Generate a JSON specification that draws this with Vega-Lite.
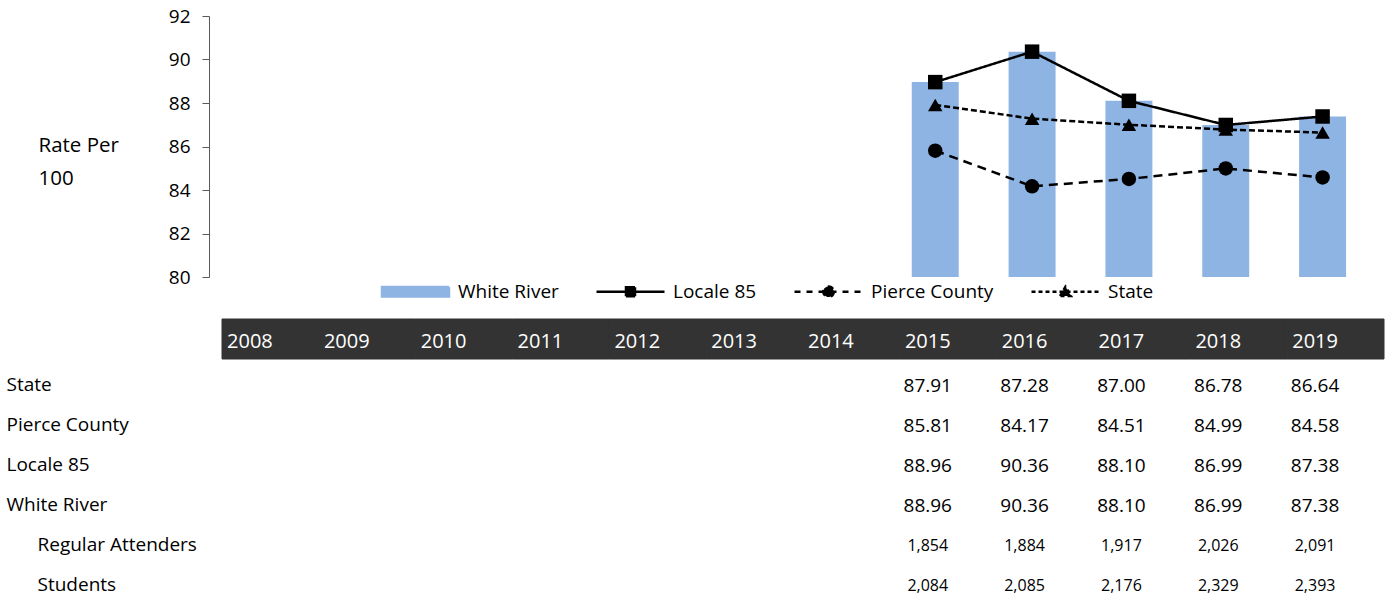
{
  "$schema": "https://vega.github.io/schema/vega-lite/v6.json",
  "padding": {"left": 6, "top": 7, "right": 0, "bottom": 0},
  "autosize": {"type": "pad"},
  "background": "#ffffff",
  "config": {"font": "Open Sans", "view": {"stroke": null}},
  "datasets": {
    "rates": [
      {"year": "2015", "series": "State", "value": 87.91},
      {"year": "2016", "series": "State", "value": 87.28},
      {"year": "2017", "series": "State", "value": 87.00},
      {"year": "2018", "series": "State", "value": 86.78},
      {"year": "2019", "series": "State", "value": 86.64},
      {"year": "2015", "series": "Pierce County", "value": 85.81},
      {"year": "2016", "series": "Pierce County", "value": 84.17},
      {"year": "2017", "series": "Pierce County", "value": 84.51},
      {"year": "2018", "series": "Pierce County", "value": 84.99},
      {"year": "2019", "series": "Pierce County", "value": 84.58},
      {"year": "2015", "series": "Locale 85", "value": 88.96},
      {"year": "2016", "series": "Locale 85", "value": 90.36},
      {"year": "2017", "series": "Locale 85", "value": 88.10},
      {"year": "2018", "series": "Locale 85", "value": 86.99},
      {"year": "2019", "series": "Locale 85", "value": 87.38},
      {"year": "2015", "series": "White River", "value": 88.96},
      {"year": "2016", "series": "White River", "value": 90.36},
      {"year": "2017", "series": "White River", "value": 88.10},
      {"year": "2018", "series": "White River", "value": 86.99},
      {"year": "2019", "series": "White River", "value": 87.38},
      {"year": "2015", "series": "Regular Attenders", "value": 1854},
      {"year": "2016", "series": "Regular Attenders", "value": 1884},
      {"year": "2017", "series": "Regular Attenders", "value": 1917},
      {"year": "2018", "series": "Regular Attenders", "value": 2026},
      {"year": "2019", "series": "Regular Attenders", "value": 2091},
      {"year": "2015", "series": "Students", "value": 2084},
      {"year": "2016", "series": "Students", "value": 2085},
      {"year": "2017", "series": "Students", "value": 2176},
      {"year": "2018", "series": "Students", "value": 2329},
      {"year": "2019", "series": "Students", "value": 2393}
    ],
    "years": [
      {"year": "2008"}, {"year": "2009"}, {"year": "2010"}, {"year": "2011"},
      {"year": "2012"}, {"year": "2013"}, {"year": "2014"}, {"year": "2015"},
      {"year": "2016"}, {"year": "2017"}, {"year": "2018"}, {"year": "2019"}
    ]
  },
  "spacing": 42,
  "bounds": "flush",
  "vconcat": [
    {
      "width": 1162,
      "height": 261,
      "data": {"name": "rates"},
      "transform": [{"filter": {"field": "series", "oneOf": ["White River", "Locale 85", "Pierce County", "State"]}}],
      "encoding": {
        "x": {
          "field": "year", "type": "ordinal",
          "scale": {"domain": ["2008","2009","2010","2011","2012","2013","2014","2015","2016","2017","2018","2019"], "paddingInner": 0.515, "paddingOuter": 0.2575},
          "axis": null
        },
        "y": {
          "field": "value", "type": "quantitative",
          "scale": {"domain": [80, 92], "nice": false, "zero": false},
          "axis": {
            "values": [80, 82, 84, 86, 88, 90, 92],
            "grid": false,
            "domainColor": "#595959",
            "tickColor": "#595959",
            "tickSize": 7,
            "labelPadding": 12,
            "labelFontSize": 19,
            "labelColor": "#000000",
            "labelFont": "Open Sans",
            "title": ["Rate Per", "100"],
            "titleAngle": 0,
            "titleAlign": "left",
            "titleBaseline": "alphabetic",
            "titleX": -171,
            "titleY": 135,
            "titleFont": "Open Sans",
            "titleFontSize": 20.5,
            "titleFontWeight": "normal",
            "titleColor": "#000000",
            "titleLineHeight": 33
          }
        },
        "color": {
          "field": "series", "type": "nominal",
          "scale": {"domain": ["White River", "Locale 85", "Pierce County", "State"], "range": ["#8EB4E3", "#000000", "#000000", "#000000"]},
          "legend": {
            "orient": "none",
            "legendX": 169,
            "legendY": 266,
            "direction": "horizontal",
            "title": null,
            "labelFont": "Open Sans",
            "labelFontSize": 19,
            "labelColor": "#000000",
            "symbolSize": 100,
            "symbolStrokeWidth": 2.5,
            "symbolOffset": 28,
            "labelOffset": 33,
            "columnPadding": 32,
            "labelLimit": 300,
            "encode": {
              "symbols": {
                "update": {
                  "shape": {"signal": "datum.value === 'White River' ? 'M-6.7,-0.94H6.7V0.94H-6.7Z' : datum.value === 'Locale 85' ? 'M-6.8,0H6.8M-0.9,-0.9H0.9V0.9H-0.9Z' : datum.value === 'Pierce County' ? 'M-6.8,0H6.8M1.05,0C1.05,0.58 0.58,1.05 0,1.05C-0.58,1.05 -1.05,0.58 -1.05,0C-1.05,-0.58 -0.58,-1.05 0,-1.05C0.58,-1.05 1.05,-0.58 1.05,0Z' : 'M-6.8,0H6.8M-1.1,0.85L0,-1.0L1.1,0.85Z'"},
                  "fill": {"signal": "datum.value === 'White River' ? '#8EB4E3' : '#000000'"},
                  "stroke": {"signal": "datum.value === 'White River' ? 'transparent' : '#000000'"},
                  "strokeDash": {"signal": "datum.value === 'Pierce County' ? [6,6] : datum.value === 'State' ? [4,3] : [1,0]"},
                  "strokeWidth": {"value": 2.5},
                  "opacity": {"value": 1},
                  "fillOpacity": {"value": 1}
                }
              }
            }
          }
        }
      },
      "layer": [
        {
          "transform": [{"filter": "datum.series === 'White River'"}],
          "mark": {"type": "bar"},
          "encoding": {"y2": {"datum": 80}}
        },
        {
          "transform": [{"filter": "datum.series !== 'White River'"}],
          "mark": {"type": "line", "strokeWidth": 2.5},
          "encoding": {
            "strokeDash": {
              "field": "series", "type": "nominal",
              "scale": {"domain": ["Locale 85", "Pierce County", "State"], "range": [[1, 0], [9, 6], [6, 3]]},
              "legend": null
            }
          }
        },
        {
          "transform": [{"filter": "datum.series !== 'White River'"}],
          "mark": {"type": "point", "filled": true, "opacity": 1},
          "encoding": {
            "shape": {
              "field": "series", "type": "nominal",
              "scale": {"domain": ["Locale 85", "Pierce County", "State"], "range": ["square", "circle", "triangle-up"]},
              "legend": null
            },
            "size": {"value": 210}
          }
        }
      ]
    },
    {
      "width": 1162,
      "height": 280,
      "encoding": {
        "x": {
          "field": "year", "type": "ordinal",
          "scale": {"domain": ["2008","2009","2010","2011","2012","2013","2014","2015","2016","2017","2018","2019"], "paddingInner": 0, "paddingOuter": 0},
          "axis": null
        }
      },
      "layer": [
        {
          "data": {"name": "years"},
          "mark": {"type": "rect", "fill": "#333333", "stroke": "#333333", "strokeWidth": 1, "xOffset": 13, "x2Offset": 12},
          "encoding": {
            "y": {
              "datum": "header", "type": "ordinal",
              "scale": {"domain": ["header", "State", "Pierce County", "Locale 85", "White River", "Regular Attenders", "Students"], "paddingInner": 0, "paddingOuter": 0},
              "axis": {
                "title": null,
                "domain": false,
                "ticks": false,
                "tickSize": 0,
                "grid": false,
                "labelAlign": "left",
                "labelBaseline": "middle",
                "labelPadding": {"condition": {"test": "datum.value === 'Regular Attenders' || datum.value === 'Students'", "value": 172}, "value": 203},
                "labelOffset": 6,
                "labelFont": "Open Sans",
                "labelFontSize": 19,
                "labelColor": "#000000",
                "labelLimit": 400,
                "labelOverlap": false,
                "labelExpr": "datum.value === 'header' ? '' : datum.value"
              }
            }
          }
        },
        {
          "data": {"name": "years"},
          "mark": {"type": "text", "color": "#ffffff", "fontSize": 20, "font": "Open Sans", "dx": -7.5, "dy": 3},
          "encoding": {
            "y": {"datum": "header", "type": "ordinal"},
            "text": {"field": "year", "type": "nominal"}
          }
        },
        {
          "data": {"name": "rates"},
          "mark": {"type": "text", "color": "#000000", "font": "Open Sans", "dx": -7.5, "dy": 6.5},
          "encoding": {
            "y": {"field": "series", "type": "ordinal"},
            "text": {
              "condition": {"test": "datum.series === 'Regular Attenders' || datum.series === 'Students'", "field": "value", "type": "quantitative", "format": ","},
              "field": "value", "type": "quantitative", "format": ".2f"
            },
            "size": {
              "condition": {"test": "datum.series === 'Regular Attenders' || datum.series === 'Students'", "value": 16},
              "value": 19
            }
          }
        }
      ]
    }
  ]
}
